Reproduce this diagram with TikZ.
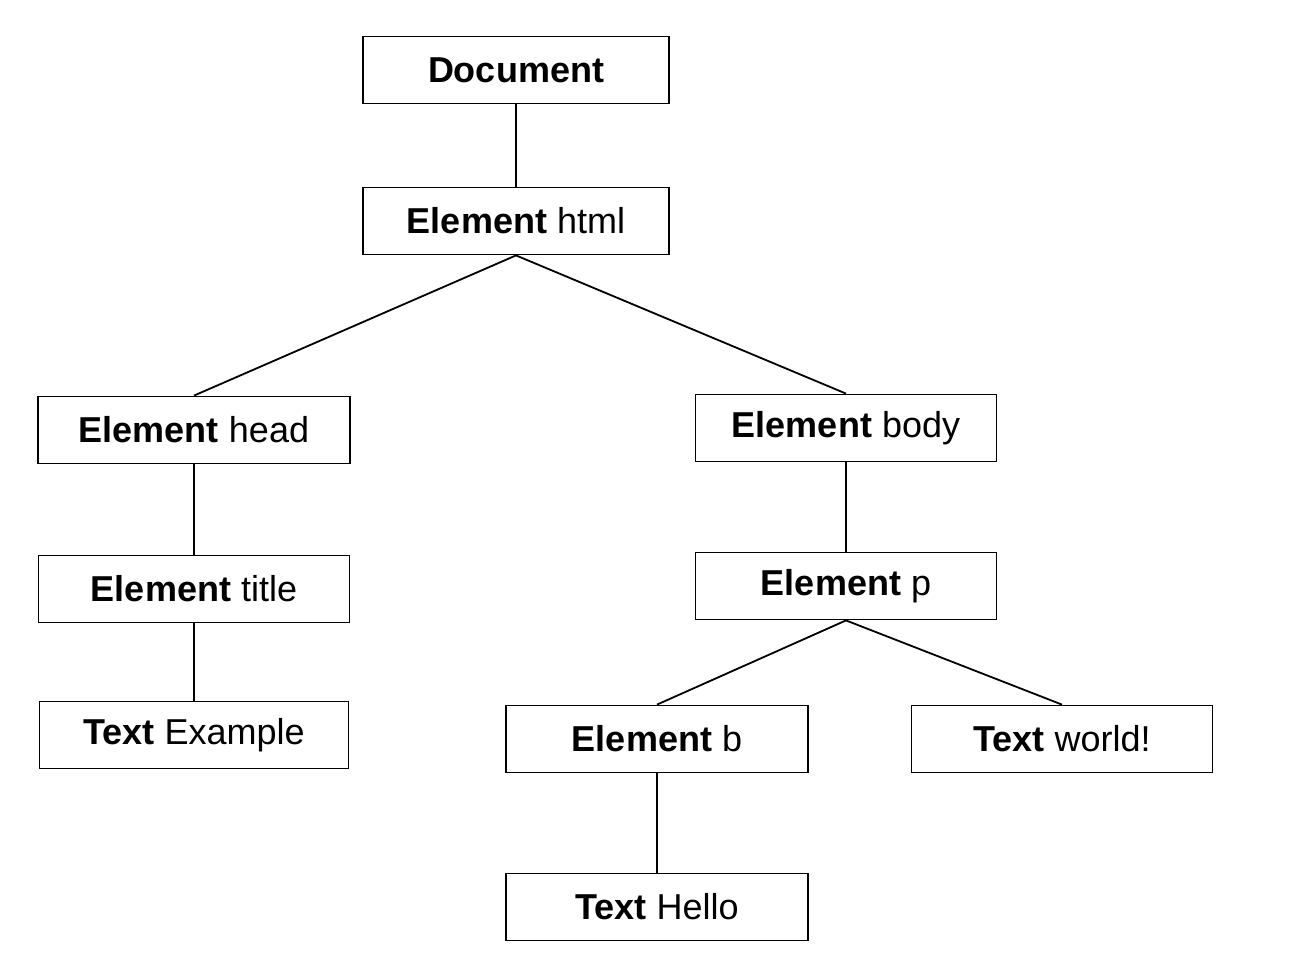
\documentclass[tikz,border=0pt]{standalone}
\usepackage{fontspec}
\setmainfont{Liberation Sans}
\begin{document}
\begin{tikzpicture}[x=1pt,y=-1pt,
  box/.style={draw=black, line width=1.8pt, fill=white, minimum width=#1, minimum height=67pt, inner sep=0pt, font=\fontsize{36}{42}\selectfont},
  box/.default=306pt,
  link/.style={draw=black, line width=1.8pt}]
\useasboundingbox (0,0) rectangle (1298,954);
\fill[white] (0,0) rectangle (1298,954);
\node[box=306pt] (doc) at (516,70) {\textbf{Document}};
\node[box=306pt] (html) at (516,221) {\textbf{Element} html};
\node[box=312pt] (head) at (194,430) {\textbf{Element} head};
\node[box=301pt] (body) at (846,428) {\textbf{Element} body};
\node[box=311pt] (title) at (194,589) {\textbf{Element} title};
\node[box=301pt] (p) at (846,586) {\textbf{Element} p};
\node[box=309pt] (ex) at (194,735) {\textbf{Text} Example};
\node[box=302pt] (b) at (657,739) {\textbf{Element} b};
\node[box=301pt] (world) at (1062,739) {\textbf{Text} world!};
\node[box=302pt] (hello) at (657,907) {\textbf{Text} Hello};
\draw[link] (doc.south) -- (html.north);
\draw[link] (html.south) -- (head.north);
\draw[link] (html.south) -- (body.north);
\draw[link] (head.south) -- (title.north);
\draw[link] (title.south) -- (ex.north);
\draw[link] (body.south) -- (p.north);
\draw[link] (p.south) -- (b.north);
\draw[link] (p.south) -- (world.north);
\draw[link] (b.south) -- (hello.north);
\end{tikzpicture}
\end{document}
